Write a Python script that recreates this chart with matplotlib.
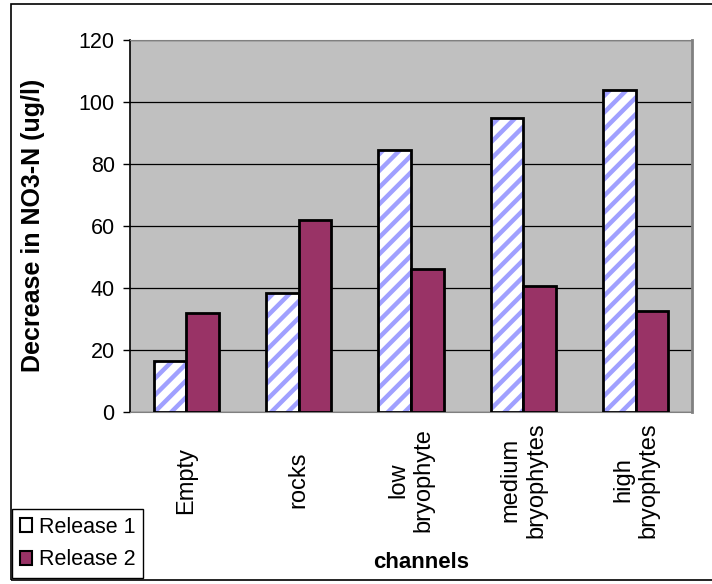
import numpy as np
import matplotlib
matplotlib.use("Agg")
import matplotlib.pyplot as plt
from matplotlib.patches import Patch, Rectangle

plt.rcParams['font.family'] = ['Liberation Sans', 'DejaVu Sans']
plt.rcParams['hatch.linewidth'] = 3.2

kanaler = ["Empty", "rocks", "low\nbryophyte", "medium\nbryophytes", "high\nbryophytes"]
release1 = [16.5, 38.5, 84.5, 95.0, 104.0]
release2 = [32.0, 62.0, 46.0, 40.5, 32.5]
yticks = [0, 20, 40, 60, 80, 100, 120]

W, H = 712, 584
fig = plt.figure(figsize=(W/100, H/100), dpi=100)
ax = fig.add_axes([130/W, 1-412/H, (692-130)/W, (412-40)/H])
ax.set_facecolor('#c0c0c0')

x = np.arange(len(kanaler))
bw = 0.29
# randiga staplar: först mönstret, sedan svart kant ovanpå
ax.bar(x-bw/2, release1, bw, color='white', edgecolor='#a0a0ff', hatch='//', linewidth=0, zorder=3)
ax.bar(x-bw/2, release1, bw, fill=False, edgecolor='black', linewidth=2, zorder=4)
ax.bar(x+bw/2, release2, bw, color='#993366', edgecolor='black', linewidth=2, zorder=4)

ax.set_xlim(-0.5, len(kanaler)-0.5)
ax.set_ylim(0, 120)
ax.set_yticks(yticks)
ax.yaxis.grid(True, color='black', linewidth=0.9)
ax.set_axisbelow(True)
ax.tick_params(axis='y', direction='out', length=5, width=1, pad=6, labelsize=15.5)
ax.set_xticks(x)
ax.set_xticklabels(kanaler, rotation=90, va='center', ha='center', multialignment='center', fontsize=17)
ax.tick_params(axis='x', length=0, pad=49)

for s in ['top', 'right', 'bottom']:
    ax.spines[s].set_color('#808080')
ax.spines['right'].set_linewidth(2)
ax.spines['left'].set_color('black')
ax.spines['left'].set_linewidth(1.2)

fig.text(33/W, 1-225/H, "Decrease in NO3-N (ug/l)", rotation=90, ha='center', va='center',
         fontsize=18, fontweight='bold')
fig.text(421/W, 1-563/H, "channels", ha='center', va='center', fontsize=16, fontweight='bold')

# ram runt hela figuren
fig.patches.append(Rectangle((11/W, 1-580/H), 1.0, (576)/H, transform=fig.transFigure,
                             fill=False, edgecolor='black', linewidth=1.2, clip_on=False))

handles = [Patch(facecolor='white', edgecolor='black', linewidth=1.5),
           Patch(facecolor='#993366', edgecolor='black', linewidth=1.5)]
leg = fig.legend(handles, ["Release 1", "Release 2"], loc='lower left',
                 bbox_to_anchor=(12/W, 1-578/H), fontsize=15.5, frameon=True,
                 fancybox=False, edgecolor='black', framealpha=1,
                 handlelength=0.6, handleheight=0.6, handletextpad=0.3,
                 borderpad=0.35, labelspacing=0.55, borderaxespad=0)
leg.get_frame().set_linewidth(1)

fig.savefig("out.png", dpi=100)
